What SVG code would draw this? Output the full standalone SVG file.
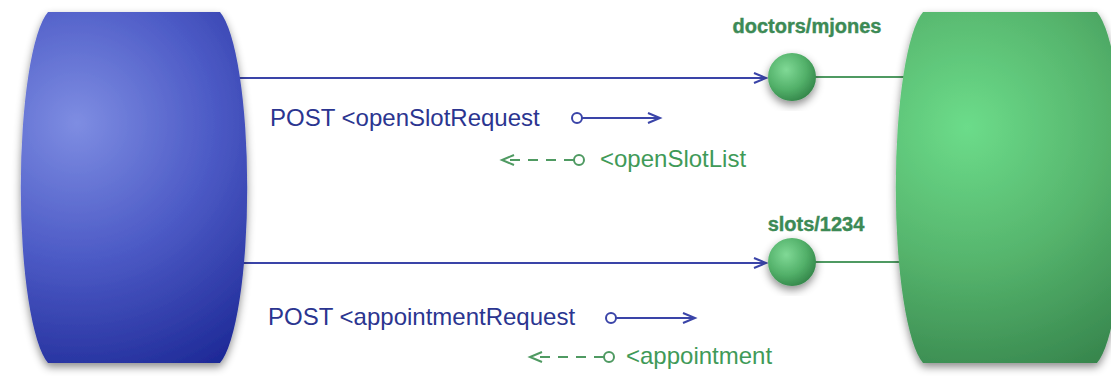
<svg xmlns="http://www.w3.org/2000/svg" width="1111" height="376" viewBox="0 0 1111 376">
  <style>
    .blueline { stroke: #3a44a8; stroke-width: 2; fill: none; }
    .greenline { stroke: #4f9a62; stroke-width: 2; fill: none; }
    .msgblue { font-family: "Liberation Sans", Arial, sans-serif; font-size: 24px; fill: #2b3590; }
    .msggreen { font-family: "Liberation Sans", Arial, sans-serif; font-size: 24px; fill: #3f9a58; }
    .res { font-family: "Liberation Sans", Arial, sans-serif; font-size: 20px; font-weight: bold; fill: #3c8a55; stroke: #3c8a55; stroke-width: 0.4; }
  </style>
  <defs>
    <radialGradient id="gBlue" gradientUnits="userSpaceOnUse" cx="77" cy="123" r="300">
      <stop offset="0" stop-color="#7e8de2"/>
      <stop offset="0.45" stop-color="#4d5bc6"/>
      <stop offset="1" stop-color="#16218f"/>
    </radialGradient>
    <radialGradient id="gGreen" gradientUnits="userSpaceOnUse" cx="967" cy="127" r="300">
      <stop offset="0" stop-color="#6cdc8a"/>
      <stop offset="0.45" stop-color="#56b56d"/>
      <stop offset="1" stop-color="#2f7a45"/>
    </radialGradient>
    <radialGradient id="gSphere" cx="0.38" cy="0.35" r="0.7">
      <stop offset="0" stop-color="#80d996"/>
      <stop offset="0.6" stop-color="#52b069"/>
      <stop offset="1" stop-color="#338549"/>
    </radialGradient>
    <filter id="shadow" x="-20%" y="-20%" width="140%" height="140%">
      <feDropShadow dx="0" dy="4" stdDeviation="4" flood-color="#000" flood-opacity="0.45"/>
    </filter>
    <marker id="arrB" markerUnits="userSpaceOnUse" markerWidth="16" markerHeight="14" refX="13" refY="6" orient="auto">
      <path d="M1,1 L13,6 L1,11" fill="none" stroke="#3a44a8" stroke-width="2"/>
    </marker>
    <marker id="arrG" markerUnits="userSpaceOnUse" markerWidth="16" markerHeight="14" refX="13" refY="6" orient="auto">
      <path d="M1,1 L13,6 L1,11" fill="none" stroke="#4f9a62" stroke-width="2"/>
    </marker>
  </defs>

  <g id="connectors">
    <line class="blueline" x1="238" y1="78" x2="766" y2="78" marker-end="url(#arrB)"/>
    <line class="greenline" x1="815" y1="77" x2="906" y2="77"/>
    <line class="blueline" x1="238" y1="263" x2="766" y2="263" marker-end="url(#arrB)"/>
    <line class="greenline" x1="815" y1="262" x2="906" y2="262"/>
  </g>

  <g id="client">
    <path d="M48,12 L220,12 A35,180 0 0 1 220,363 L48,363 A35,180 0 0 1 48,12 Z" fill="url(#gBlue)" filter="url(#shadow)"/>
  </g>

  <g id="server">
    <path d="M923,12 L1097,12 A35,180 0 0 1 1097,363 L923,363 A35,180 0 0 1 923,12 Z" fill="url(#gGreen)" filter="url(#shadow)"/>
  </g>

  <g id="resource-doctors">
    <circle cx="792" cy="77" r="24" fill="url(#gSphere)" filter="url(#shadow)"/>
    <text class="res" x="807" y="33" text-anchor="middle">doctors/mjones</text>
  </g>

  <g id="resource-slots">
    <circle cx="792" cy="262" r="24" fill="url(#gSphere)" filter="url(#shadow)"/>
    <text class="res" x="816" y="231" text-anchor="middle">slots/1234</text>
  </g>

  <g id="msg-openSlotRequest">
    <text class="msgblue" x="270" y="126">POST &lt;openSlotRequest</text>
    <circle cx="577" cy="118" r="5" fill="#fff" stroke="#3a44a8" stroke-width="2"/>
    <line class="blueline" x1="582" y1="118" x2="660" y2="118" marker-end="url(#arrB)"/>
  </g>

  <g id="msg-openSlotList">
    <circle cx="579" cy="160" r="5" fill="#fff" stroke="#4f9a62" stroke-width="2"/>
    <line class="greenline" x1="574" y1="160" x2="502" y2="160" stroke-dasharray="10,8" marker-end="url(#arrG)"/>
    <text class="msggreen" x="600" y="167">&lt;openSlotList</text>
  </g>

  <g id="msg-appointmentRequest">
    <text class="msgblue" x="268" y="325">POST &lt;appointmentRequest</text>
    <circle cx="611" cy="318" r="5" fill="#fff" stroke="#3a44a8" stroke-width="2"/>
    <line class="blueline" x1="616" y1="318" x2="695" y2="318" marker-end="url(#arrB)"/>
  </g>

  <g id="msg-appointment">
    <circle cx="609" cy="357" r="5" fill="#fff" stroke="#4f9a62" stroke-width="2"/>
    <line class="greenline" x1="604" y1="357" x2="530" y2="357" stroke-dasharray="10,8" marker-end="url(#arrG)"/>
    <text class="msggreen" x="626" y="364">&lt;appointment</text>
  </g>
</svg>
